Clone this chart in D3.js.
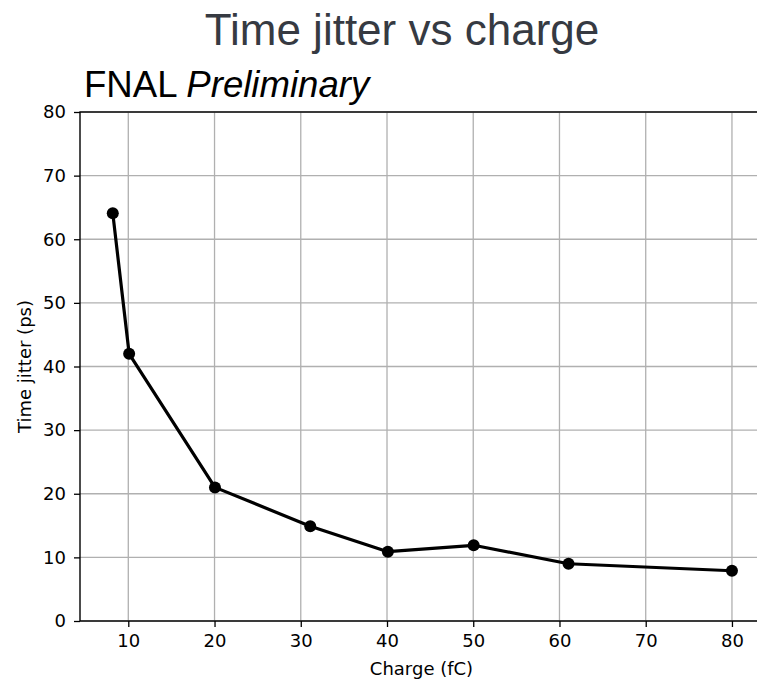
<!DOCTYPE html>
<html>
<head>
<meta charset="utf-8">
<script src="https://cdn.jsdelivr.net/npm/d3@7/dist/d3.min.js"></script>
<style>
  html, body { margin: 0; padding: 0; background: #fff; overflow: hidden; }
  svg { display: block; }
</style>
</head>
<body>
<svg id="chart" width="757" height="682"></svg>
<script>
// Measured time jitter at each injected charge
const charge = [8.2, 10.1, 20.05, 31.1, 40.1, 50.05, 61.05, 80];
const jitter = [64.1, 42.0, 21.0, 14.9, 10.9, 11.9, 9.0, 7.9];
const xTicks = [10, 20, 30, 40, 50, 60, 70, 80];
const yTicks = [0, 10, 20, 30, 40, 50, 60, 70, 80];

const svg = d3.select("#chart");
const plot = { left: 80, right: 763, top: 112, bottom: 621 };

const x = d3.scaleLinear().domain([4.4, 83.6]).range([plot.left, plot.right]);
const y = d3.scaleLinear().domain([0, 80]).range([plot.bottom, plot.top]);

const tickFont = "DejaVu Sans, sans-serif";

// grid
const grid = svg.append("g");
grid.selectAll("line.vx").data(xTicks).join("line")
  .attr("x1", d => x(d)).attr("x2", d => x(d))
  .attr("y1", plot.top).attr("y2", plot.bottom)
  .attr("stroke", "#b0b0b0").attr("stroke-width", 1.3);
grid.selectAll("line.hy").data(yTicks).join("line")
  .attr("x1", plot.left).attr("x2", plot.right)
  .attr("y1", d => y(d)).attr("y2", d => y(d))
  .attr("stroke", "#b0b0b0").attr("stroke-width", 1.3);

// axes
const xAxis = d3.axisBottom(x).tickValues(xTicks).tickSize(6).tickPadding(7).tickFormat(d3.format("d"));
const yAxis = d3.axisLeft(y).tickValues(yTicks).tickSize(6).tickPadding(8).tickFormat(d3.format("d"));

const gx = svg.append("g").attr("transform", `translate(0,${plot.bottom})`).call(xAxis);
const gy = svg.append("g").attr("transform", `translate(${plot.left},0)`).call(yAxis);
[gx, gy].forEach(g => {
  g.select(".domain").remove();
  g.selectAll(".tick line").attr("stroke", "#000").attr("stroke-width", 1.3);
  g.selectAll(".tick text").attr("fill", "#000")
    .style("font-family", tickFont).style("font-size", "18px");
});

// frame
svg.append("rect")
  .attr("x", plot.left).attr("y", plot.top)
  .attr("width", plot.right - plot.left).attr("height", plot.bottom - plot.top)
  .attr("fill", "none").attr("stroke", "#000").attr("stroke-width", 1.4);

// series
const pts = charge.map((c, i) => [c, jitter[i]]);
svg.append("path").datum(pts)
  .attr("fill", "none").attr("stroke", "#000").attr("stroke-width", 3.2)
  .attr("stroke-linejoin", "round")
  .attr("d", d3.line().x(d => x(d[0])).y(d => y(d[1])));
svg.append("g").selectAll("circle").data(pts).join("circle")
  .attr("cx", d => x(d[0])).attr("cy", d => y(d[1])).attr("r", 6)
  .attr("fill", "#000");

// axis labels
svg.append("text")
  .attr("x", (plot.left + plot.right) / 2).attr("y", 675)
  .attr("text-anchor", "middle")
  .style("font-family", tickFont).style("font-size", "18px")
  .text("Charge (fC)");
svg.append("text")
  .attr("transform", `translate(31,${(plot.top + plot.bottom) / 2}) rotate(-90)`)
  .attr("text-anchor", "middle")
  .style("font-family", tickFont).style("font-size", "18px")
  .text("Time jitter (ps)");

// titles
svg.append("text")
  .attr("x", 402).attr("y", 45)
  .attr("text-anchor", "middle")
  .attr("fill", "#363a42")
  .style("font-family", "Liberation Sans, Arial, sans-serif").style("font-size", "44px")
  .text("Time jitter vs charge");
const sub = svg.append("text")
  .attr("x", 84).attr("y", 97)
  .attr("fill", "#000")
  .style("font-family", "Liberation Sans, Arial, sans-serif").style("font-size", "36.6px");
sub.append("tspan").text("FNAL ");
sub.append("tspan").style("font-style", "italic").text("Preliminary");
</script>
</body>
</html>
